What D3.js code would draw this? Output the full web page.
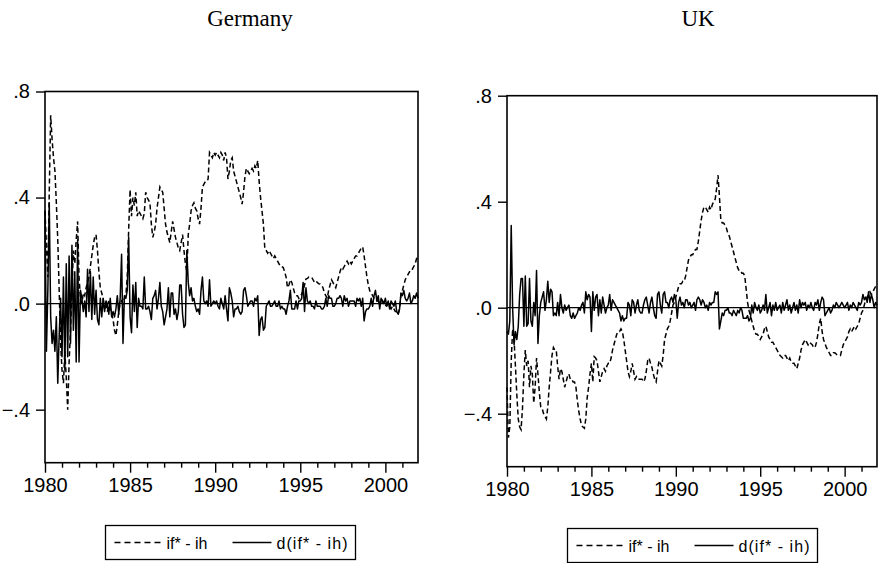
<!DOCTYPE html>
<html>
<head>
<meta charset="utf-8">
<script src="https://cdn.jsdelivr.net/npm/d3@7"></script>
<style>
  body { margin: 0; background: #fff; }
  svg { display: block; }
</style>
</head>
<body>
<svg width="878" height="563"></svg>
<script>
const startYear = 1980
const endYear = 2001 + 11 / 12
const yTicks = [-0.4, 0, 0.4, 0.8]
const yearLabels = [1980, 1985, 1990, 1995, 2000]
const minorYears = [1981, 1982, 1983, 1984, 1986, 1987, 1988, 1989, 1991, 1992, 1993, 1994, 1996, 1997, 1998, 1999, 2001]
const legendLabels = ["if* - ih", "d(if* - ih)"]
const titles = ["Germany", "UK"]

// monthly, 1980:01 - 2001:12, one year per row
const gerLevel = [
  0.35, 0.22, 0.10, 0.42, 0.71, 0.62, 0.55, 0.50, 0.38, 0.24, 0.05, -0.15,
  -0.25, -0.30, -0.18, -0.28, -0.40, -0.22, -0.10, 0.05, 0.20, 0.15, 0.24, 0.31,
  0.10, 0.02, 0.00, 0.04, 0.03, 0.06, 0.08, 0.10, 0.14, 0.18, 0.22, 0.25,
  0.26, 0.20, 0.12, 0.06, 0.04, 0.02, -0.02, 0.00, -0.03, 0.01, -0.02, -0.04,
  -0.06, -0.10, -0.12, -0.08, -0.03, 0.00, 0.01, 0.00, 0.02, 0.03, 0.10, 0.28,
  0.43, 0.33, 0.40, 0.37, 0.42, 0.33, 0.35, 0.34, 0.33, 0.32, 0.34, 0.42,
  0.40, 0.39, 0.38, 0.30, 0.25, 0.27, 0.30, 0.36, 0.40, 0.44, 0.43, 0.42,
  0.36, 0.30, 0.27, 0.25, 0.23, 0.27, 0.31, 0.28, 0.25, 0.23, 0.21, 0.20,
  0.23, 0.26, 0.20, 0.15, 0.12, 0.26, 0.30, 0.35, 0.37, 0.38, 0.36, 0.35,
  0.32, 0.30, 0.36, 0.44, 0.45, 0.46, 0.46, 0.47, 0.57, 0.56, 0.55, 0.57,
  0.56, 0.57, 0.56, 0.55, 0.57, 0.56, 0.54, 0.57, 0.55, 0.47, 0.50, 0.54,
  0.55, 0.50, 0.48, 0.46, 0.44, 0.42, 0.40, 0.375, 0.42, 0.48, 0.51, 0.50,
  0.49, 0.50, 0.51, 0.50, 0.52, 0.51, 0.54, 0.46, 0.40, 0.35, 0.30, 0.205,
  0.20, 0.19, 0.20, 0.19, 0.18, 0.17, 0.18, 0.17, 0.16, 0.15, 0.14, 0.14,
  0.136, 0.12, 0.10, 0.06, 0.07, 0.09, 0.08, 0.06, 0.04, 0.03, 0.03, 0.02,
  0.03, 0.035, 0.05, 0.07, 0.093, 0.095, 0.10, 0.10, 0.10, 0.09, 0.08, 0.085,
  0.08, 0.075, 0.074, 0.07, 0.06, 0.04, 0.03, 0.02, 0.05, 0.07, 0.09, 0.08,
  0.07, 0.06, 0.08, 0.10, 0.12, 0.136, 0.13, 0.14, 0.15, 0.16, 0.15, 0.16,
  0.15, 0.16, 0.17, 0.18, 0.18, 0.19, 0.20, 0.21, 0.214, 0.18, 0.14, 0.10,
  0.07, 0.048, 0.04, 0.03, 0.02, 0.02, 0.01, 0.01, 0.00, 0.00, 0.01, 0.00,
  -0.01, 0.00, -0.01, -0.01, -0.02, -0.01, -0.02, -0.03, -0.03, -0.04, -0.02, 0.035,
  0.05, 0.07, 0.09, 0.10, 0.11, 0.12, 0.13, 0.13, 0.14, 0.15, 0.17, 0.18
]

const gerDiff = [
  0.35, -0.18, 0.05, 0.38, -0.05, -0.15, -0.10, -0.18, -0.05, -0.30, -0.12, 0.02,
  -0.20, 0.10, -0.25, 0.15, -0.20, 0.18, -0.15, 0.22, -0.10, 0.12, -0.22, 0.24,
  -0.22, 0.05, 0.02, -0.03, 0.01, -0.05, 0.13, -0.03, 0.12, -0.06, 0.10, -0.04,
  0.05, -0.06, -0.08, 0.02, -0.05, 0.02, -0.03, 0.01, 0.00, -0.04, 0.02, -0.05,
  -0.03, -0.05, -0.02, 0.03, -0.04, 0.02, 0.186, -0.15, 0.03, 0.02, 0.05, 0.25,
  -0.05, -0.11, 0.07, -0.03, 0.08, -0.09, 0.02, -0.01, -0.01, -0.02, 0.10, -0.02,
  -0.02, -0.01, -0.03, -0.06, 0.02, 0.03, 0.05, -0.02, 0.02, 0.08, -0.01, -0.03,
  -0.08, -0.05, -0.02, 0.06, -0.05, 0.04, 0.04, -0.04, -0.02, -0.06, -0.03, 0.07,
  0.07, -0.04, -0.09, -0.08, 0.20, 0.08, 0.03, 0.06, 0.01, 0.02, -0.01, -0.03,
  -0.02, -0.04, 0.05, 0.10, 0.01, 0.00, 0.01, -0.01, 0.09, -0.01, 0.00, 0.01,
  0.00, 0.01, -0.01, -0.02, 0.02, 0.00, -0.02, 0.03, -0.02, -0.065, 0.06, 0.04,
  0.01, -0.05, -0.02, -0.02, -0.01, -0.03, -0.04, -0.03, 0.05, 0.06, 0.03, -0.01,
  0.00, 0.01, 0.01, -0.01, 0.02, 0.01, 0.03, -0.12, -0.06, -0.05, -0.10, -0.09,
  -0.01, 0.00, 0.01, -0.01, -0.01, 0.00, 0.01, -0.01, -0.01, 0.01, -0.02, -0.01,
  -0.02, -0.02, -0.04, -0.01, 0.01, 0.05, -0.02, -0.02, -0.02, 0.01, -0.02, 0.01,
  0.01, 0.02, 0.08, -0.03, 0.06, 0.01, 0.00, 0.01, -0.01, -0.01, -0.02, 0.01,
  -0.01, -0.01, -0.01, -0.02, -0.02, -0.01, 0.02, -0.01, 0.03, 0.02, 0.02, -0.01,
  -0.01, 0.00, 0.02, 0.02, 0.03, 0.02, -0.01, 0.03, 0.01, 0.02, -0.01, 0.01,
  0.01, 0.01, 0.01, -0.01, 0.02, 0.01, 0.02, -0.01, 0.02, -0.065, -0.03, -0.02,
  -0.02, -0.01, 0.02, -0.01, 0.03, 0.05, 0.01, 0.03, -0.02, 0.02, 0.01, 0.00,
  0.02, -0.01, 0.01, -0.02, 0.01, 0.00, -0.01, 0.01, -0.03, -0.04, -0.02, 0.04,
  0.03, 0.05, 0.02, 0.01, 0.02, 0.04, 0.00, 0.01, 0.03, 0.02, 0.04, 0.02
]

const ukLevel = [
  -0.30, -0.49, -0.45, -0.20, -0.08, -0.12, -0.22, -0.33, -0.42, -0.45, -0.46, -0.38,
  -0.25, -0.16, -0.22, -0.20, -0.30, -0.22, -0.25, -0.36, -0.30, -0.19, -0.25, -0.32,
  -0.375, -0.38, -0.40, -0.41, -0.42, -0.375, -0.30, -0.24, -0.18, -0.15, -0.16, -0.16,
  -0.22, -0.27, -0.23, -0.24, -0.27, -0.30, -0.28, -0.26, -0.25, -0.27, -0.27, -0.28,
  -0.28, -0.30, -0.35, -0.39, -0.42, -0.445, -0.45, -0.455, -0.42, -0.34, -0.30, -0.25,
  -0.21, -0.28, -0.185, -0.19, -0.20, -0.24, -0.28, -0.26, -0.24, -0.23, -0.24, -0.22,
  -0.21, -0.21, -0.19, -0.16, -0.14, -0.12, -0.10, -0.09, -0.09, -0.08, -0.09, -0.12,
  -0.16, -0.20, -0.24, -0.26, -0.24, -0.21, -0.24, -0.27, -0.26, -0.27, -0.27, -0.27,
  -0.27, -0.28, -0.27, -0.24, -0.20, -0.19, -0.21, -0.225, -0.25, -0.27, -0.28, -0.24,
  -0.20, -0.21, -0.22, -0.18, -0.12, -0.10, -0.08, -0.07, -0.05, -0.02, 0.01, 0.02,
  0.04, 0.06, 0.08, 0.09, 0.09, 0.10, 0.10, 0.12, 0.15, 0.18, 0.19, 0.20,
  0.20, 0.21, 0.22, 0.22, 0.25, 0.29, 0.33, 0.36, 0.38, 0.38, 0.37, 0.36,
  0.38, 0.37, 0.39, 0.40, 0.41, 0.45, 0.50, 0.42, 0.33, 0.32, 0.32, 0.31,
  0.30, 0.28, 0.27, 0.25, 0.23, 0.21, 0.19, 0.17, 0.15, 0.14, 0.14, 0.13,
  0.13, 0.12, 0.07, 0.02, -0.01, -0.03, -0.05, -0.07, -0.09, -0.10, -0.10, -0.11,
  -0.12, -0.11, -0.10, -0.08, -0.07, -0.09, -0.11, -0.12, -0.13, -0.13, -0.14, -0.15,
  -0.16, -0.17, -0.18, -0.185, -0.19, -0.18, -0.18, -0.19, -0.20, -0.19, -0.205, -0.21,
  -0.21, -0.22, -0.23, -0.21, -0.19, -0.16, -0.14, -0.13, -0.12, -0.13, -0.14, -0.13,
  -0.135, -0.14, -0.15, -0.15, -0.13, -0.10, -0.06, -0.04, -0.09, -0.12, -0.135, -0.15,
  -0.16, -0.17, -0.18, -0.18, -0.17, -0.17, -0.175, -0.18, -0.18, -0.18, -0.16, -0.14,
  -0.13, -0.12, -0.11, -0.09, -0.08, -0.09, -0.08, -0.07, -0.08, -0.07, -0.06, -0.04,
  -0.02, -0.01, 0.01, 0.03, 0.04, 0.05, 0.06, 0.05, 0.06, 0.07, 0.08, 0.09
]

const ukDiff = [
  -0.09, -0.10, -0.05, 0.31, 0.00, -0.14, -0.09, -0.12, -0.07, 0.05, 0.11, 0.11,
  -0.07, 0.12, -0.07, -0.06, 0.11, -0.05, -0.07, 0.02, -0.03, 0.14, -0.135, -0.03,
  0.02, 0.04, 0.06, -0.01, 0.03, 0.10, 0.02, 0.07, 0.06, -0.03, -0.02, -0.03,
  0.02, -0.03, 0.05, 0.00, -0.02, 0.01, -0.01, 0.00, 0.01, -0.03, -0.04, -0.02,
  -0.04, -0.03, -0.02, 0.00, -0.01, 0.01, 0.02, -0.02, 0.06, 0.03, 0.05, 0.04,
  -0.09, 0.06, -0.01, 0.04, 0.05, -0.03, 0.03, -0.02, 0.04, 0.01, -0.02, 0.00,
  0.01, 0.05, -0.01, 0.03, 0.02, 0.01, 0.00, -0.01, -0.02, -0.05, -0.03, -0.05,
  -0.04, -0.04, 0.02, 0.01, -0.03, 0.03, 0.02, -0.02, 0.01, 0.03, -0.01, -0.02,
  -0.02, 0.01, 0.03, 0.04, 0.01, -0.02, 0.02, 0.04, 0.00, -0.03, -0.04, 0.05,
  0.06, 0.01, -0.02, 0.05, 0.06, 0.02, 0.02, 0.00, 0.03, 0.04, 0.02, 0.05,
  0.03, -0.04, 0.02, 0.04, 0.01, 0.02, 0.00, 0.03, 0.03, 0.01, 0.02, 0.00,
  0.01, 0.02, -0.01, 0.03, 0.04, 0.03, 0.01, 0.03, 0.02, 0.00, 0.01, -0.01,
  0.02, 0.01, 0.02, 0.02, 0.06, 0.05, 0.06, -0.08, -0.05, -0.02, -0.03, -0.01,
  -0.01, 0.00, -0.02, -0.02, -0.03, -0.01, -0.02, -0.03, -0.01, -0.02, 0.00, -0.01,
  -0.04, -0.04, -0.04, -0.03, -0.05, -0.04, 0.01, -0.02, 0.02, 0.00, -0.01, 0.01,
  -0.02, -0.01, 0.01, -0.01, 0.05, -0.02, 0.00, 0.02, -0.03, 0.01, -0.01, 0.02,
  -0.01, 0.00, 0.01, -0.02, 0.02, -0.01, 0.01, 0.03, -0.01, 0.01, -0.02, 0.00,
  0.02, -0.01, 0.01, -0.02, 0.03, 0.00, 0.02, 0.01, 0.02, -0.01, 0.01, 0.00,
  0.02, 0.00, -0.01, 0.02, 0.01, 0.03, -0.01, 0.02, 0.04, 0.03, -0.03, -0.02,
  -0.01, 0.00, -0.02, -0.01, 0.01, 0.00, 0.02, 0.01, 0.00, 0.01, 0.02, 0.01,
  0.00, 0.01, 0.02, -0.01, 0.01, 0.00, 0.02, 0.01, 0.00, -0.01, 0.02, 0.01,
  0.02, 0.05, 0.03, 0.04, 0.02, 0.06, 0.02, 0.05, 0.03, 0.00, 0.02, 0.01
]

const months = gerLevel.map((d, i) => startYear + i / 12)

const svg = d3.select("svg")

const sansFont = "'Liberation Sans', Arial, sans-serif"
const serifFont = "'Liberation Serif', 'Times New Roman', serif"

const formatY = function(d) {
  return d3.format(".1f")(d).replace("0.", ".")
}

const drawPanel = function(opts) {
  const scaleX = d3.scaleLinear()
    .domain([startYear, endYear])
    .range([opts.left, opts.right])

  const scaleY = d3.scaleLinear()
    .domain([-0.6, 0.8])
    .range([opts.bottom, opts.top])

  const g = svg.append("g")

  g.append("text")
    .attr("x", opts.titleX)
    .attr("y", 26)
    .attr("text-anchor", "middle")
    .attr("font-family", serifFont)
    .attr("font-size", 23)
    .text(opts.title)

  // zero line
  g.append("line")
    .attr("x1", opts.left)
    .attr("x2", opts.right)
    .attr("y1", scaleY(0))
    .attr("y2", scaleY(0))
    .attr("stroke", "#000")
    .attr("stroke-width", 1.3)

  const line = d3.line()
    .x((d, i) => scaleX(months[i]))
    .y(d => scaleY(d))

  g.append("path")
    .datum(opts.diff)
    .attr("d", line)
    .attr("fill", "none")
    .attr("stroke", "#000")
    .attr("stroke-width", 1.5)
    .attr("stroke-linejoin", "round")

  g.append("path")
    .datum(opts.level)
    .attr("d", line)
    .attr("fill", "none")
    .attr("stroke", "#000")
    .attr("stroke-width", 1.5)
    .attr("stroke-dasharray", "5,3")

  // frame
  g.append("rect")
    .attr("x", opts.left)
    .attr("y", opts.top)
    .attr("width", opts.right - opts.left)
    .attr("height", opts.bottom - opts.top)
    .attr("fill", "none")
    .attr("stroke", "#000")
    .attr("stroke-width", 1.6)

  // axes
  const axisY = d3.axisLeft(scaleY)
    .tickValues(yTicks)
    .tickSize(9)
    .tickPadding(6)
    .tickFormat(formatY)

  const axisX = d3.axisBottom(scaleX)
    .tickValues(yearLabels)
    .tickSize(10)
    .tickPadding(5)
    .tickFormat(d3.format("d"))

  const axisMinor = d3.axisBottom(scaleX)
    .tickValues(minorYears)
    .tickSize(5)
    .tickFormat("")

  const gy = g.append("g")
    .attr("transform", `translate(${opts.left}, 0)`)
    .call(axisY)

  const gx = g.append("g")
    .attr("transform", `translate(0, ${opts.bottom})`)
    .call(axisX)

  const gm = g.append("g")
    .attr("transform", `translate(0, ${opts.bottom})`)
    .call(axisMinor)

  ;[gy, gx, gm].forEach(a => {
    a.select(".domain").remove()
    a.selectAll("line").attr("stroke-width", 1.4)
    a.selectAll("text")
      .attr("font-family", sansFont)
      .attr("font-size", 20)
      .attr("fill", "#000")
  })

  // legend
  const lg = g.append("g")
    .attr("transform", `translate(${opts.legendX}, ${opts.legendY})`)

  lg.append("rect")
    .attr("width", 250)
    .attr("height", 34)
    .attr("fill", "none")
    .attr("stroke", "#000")
    .attr("stroke-width", 1.3)

  lg.append("line")
    .attr("x1", 9).attr("x2", 55)
    .attr("y1", 17).attr("y2", 17)
    .attr("stroke", "#000")
    .attr("stroke-width", 1.3)
    .attr("stroke-dasharray", "6,4")

  lg.append("line")
    .attr("x1", 127).attr("x2", 166)
    .attr("y1", 17).attr("y2", 17)
    .attr("stroke", "#000")
    .attr("stroke-width", 1.3)

  lg.selectAll("text.lab")
    .data(legendLabels)
    .enter()
    .append("text")
    .attr("class", "lab")
    .attr("x", (d, i) => i === 0 ? 61 : 171)
    .attr("y", 23)
    .attr("font-family", sansFont)
    .attr("font-size", 16)
    .attr("textLength", (d, i) => i === 0 ? 41 : 71)
    .attr("lengthAdjust", "spacing")
    .text(d => d)
}

drawPanel({
  title: titles[0], titleX: 250,
  left: 45, right: 418, top: 91.5, bottom: 462.7,
  level: gerLevel, diff: gerDiff,
  legendX: 105.5, legendY: 525.5
})

drawPanel({
  title: titles[1], titleX: 698,
  left: 507, right: 877, top: 95.7, bottom: 466.7,
  level: ukLevel, diff: ukDiff,
  legendX: 567.5, legendY: 528.5
})
</script>
</body>
</html>
